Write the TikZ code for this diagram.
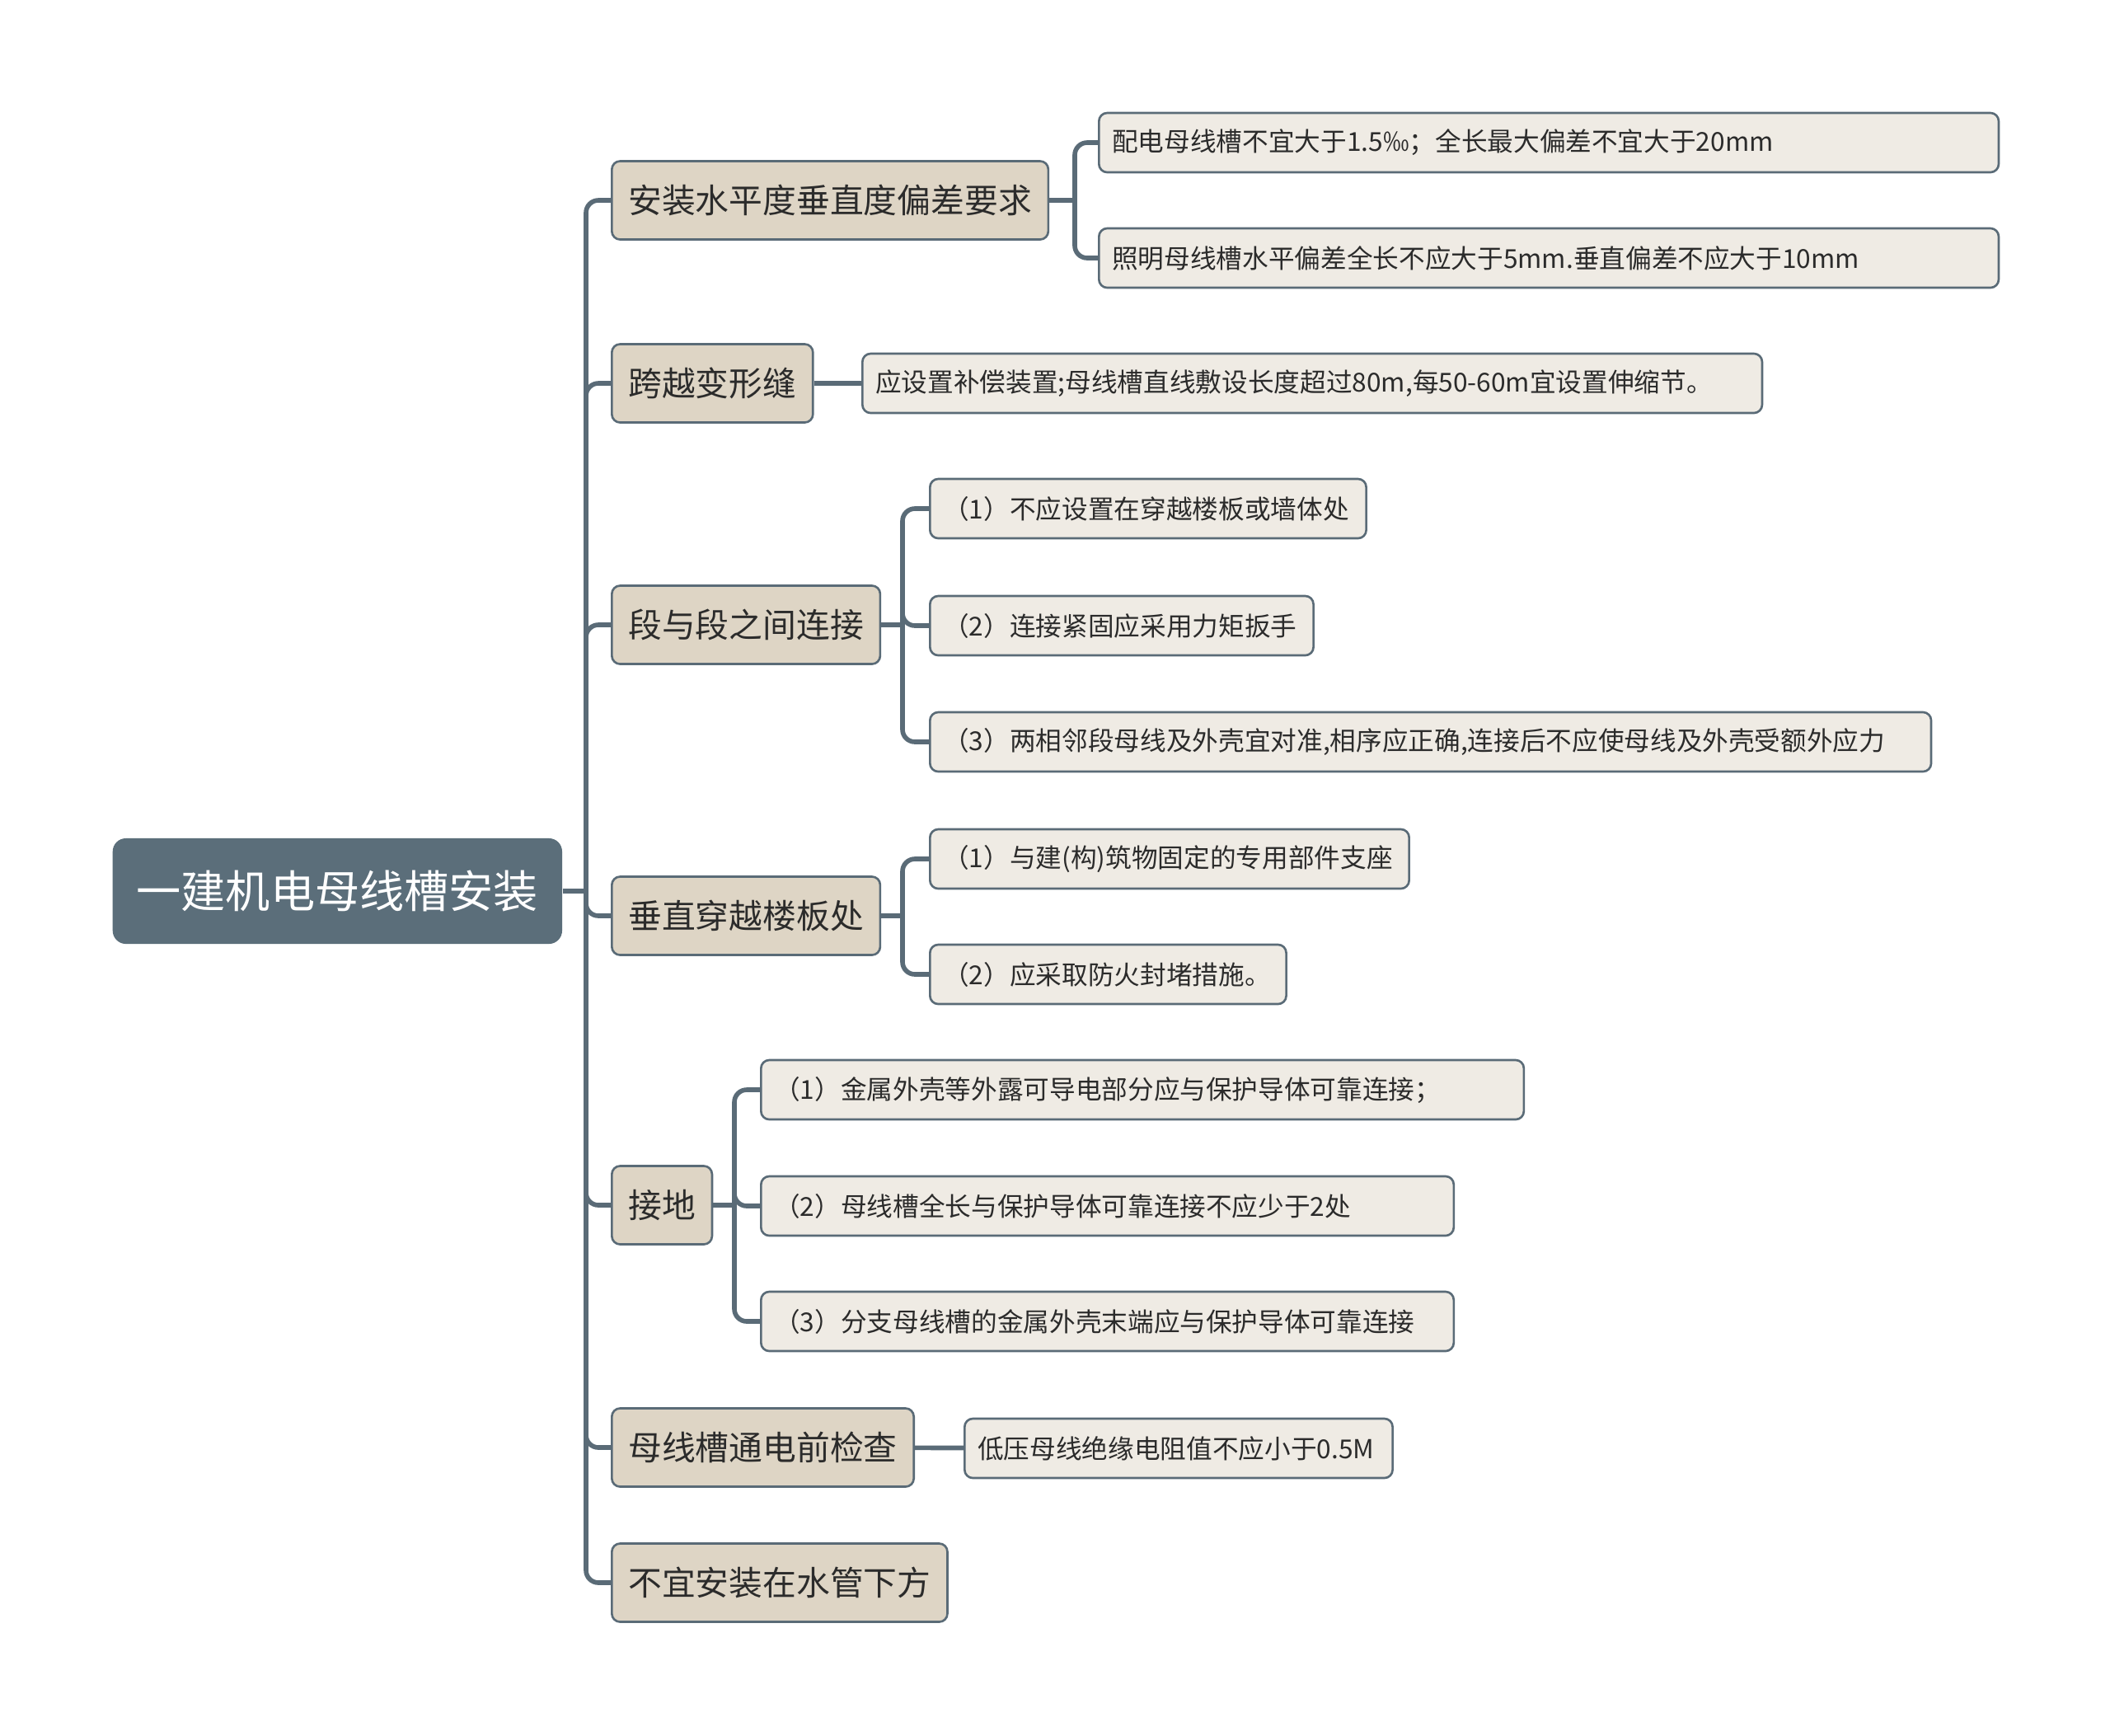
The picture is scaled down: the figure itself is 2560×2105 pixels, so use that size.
\documentclass[tikz,border=0pt]{standalone}
\usepackage{fontspec}
\setmainfont{Noto Sans CJK SC}
\definecolor{rootfill}{HTML}{5B6E7A}
\definecolor{mainfill}{HTML}{DED5C5}
\definecolor{subfill}{HTML}{EFEBE4}
\definecolor{linecol}{HTML}{5A6B77}
\definecolor{txt}{HTML}{2B2B2B}

\begin{document}
\begin{tikzpicture}[x=0.01cm,y=-0.01cm]

\tikzstyle{root} = [rectangle, rounded corners=0.16cm, fill=rootfill, text=white, font=\fontsize{15.4}{18}\selectfont, minimum width=5.45cm, minimum height=1.28cm, anchor=west]
\tikzstyle{main} = [rectangle, rounded corners=0.1cm, draw=linecol, line width=0.75pt, fill=mainfill, text=txt, font=\fontsize{11.6}{14}\selectfont, inner xsep=0.2cm, minimum height=0.95cm, anchor=west]
\tikzstyle{sub} = [rectangle, rounded corners=0.1cm, draw=linecol, line width=0.75pt, fill=subfill, text=txt, font=\fontsize{9}{11}\selectfont, inner xsep=0.16cm, minimum height=0.72cm, align=left, anchor=west]
\tikzstyle{e} = [draw=linecol, line width=1.6pt, rounded corners=0.15cm]

\useasboundingbox (0,0) rectangle (2560,2105);

\node[root](R)at(136,1081){一建机电母线槽安装};

\node[main](B1)at(741,243){安装水平度垂直度偏差要求};
\node[main](B2)at(741,465){跨越变形缝};
\node[main](B3)at(741,758){段与段之间连接};
\node[main](B4)at(741,1111){垂直穿越楼板处};
\node[main](B5)at(741,1462){接地};
\node[main](B6)at(741,1756){母线槽通电前检查};
\node[main](B7)at(741,1920){不宜安装在水管下方};

\node[sub, text width=10.59cm](L11)at(1332,173){配电母线槽不宜大于1.5‰；全长最大偏差不宜大于20mm};
\node[sub, text width=10.59cm](L12)at(1332,313){照明母线槽水平偏差全长不应大于5mm.垂直偏差不应大于10mm};
\node[sub, text width=10.59cm](L21)at(1045,465){应设置补偿装置;母线槽直线敷设长度超过80m,每50-60m宜设置伸缩节。};
\node[sub, text width=4.97cm](L31)at(1127,617){（1）不应设置在穿越楼板或墙体处};
\node[sub, text width=4.33cm](L32)at(1127,759){（2）连接紧固应采用力矩扳手};
\node[sub, text width=11.82cm](L33)at(1127,900){（3）两相邻段母线及外壳宜对准,相序应正确,连接后不应使母线及外壳受额外应力};
\node[sub, text width=5.49cm](L41)at(1127,1042){（1）与建(构)筑物固定的专用部件支座};
\node[sub, text width=4.00cm](L42)at(1127,1182){（2）应采取防火封堵措施。};
\node[sub, text width=8.93cm](L51)at(922,1322){（1）金属外壳等外露可导电部分应与保护导体可靠连接；};
\node[sub, text width=8.08cm](L52)at(922,1463){（2）母线槽全长与保护导体可靠连接不应少于2处};
\node[sub, text width=8.08cm](L53)at(922,1603){（3）分支母线槽的金属外壳末端应与保护导体可靠连接};
\node[sub, text width=4.87cm](L61)at(1169,1757){低压母线绝缘电阻值不应小于0.5M};

\coordinate(J)at(711,1081);
\coordinate(J1)at(1304,243);
\coordinate(J3)at(1095,758);
\coordinate(J4)at(1095,1111);
\coordinate(J5)at(891,1462);

\draw[e](R)--(J);
\foreach \b in {B1,B2,B3,B4,B5,B6,B7} \draw[e](J)|-(\b);

\draw[e](B1)--(J1);
\draw[e](J1)|-(L11);
\draw[e](J1)|-(L12);
\draw[e](B2)--(L21);
\draw[e](B3)--(J3);
\foreach \l in {L31,L32,L33} \draw[e](J3)|-(\l);
\draw[e](B4)--(J4);
\foreach \l in {L41,L42} \draw[e](J4)|-(\l);
\draw[e](B5)--(J5);
\foreach \l in {L51,L52,L53} \draw[e](J5)|-(\l);
\draw[e](B6)--(L61);

\end{tikzpicture}
\end{document}
